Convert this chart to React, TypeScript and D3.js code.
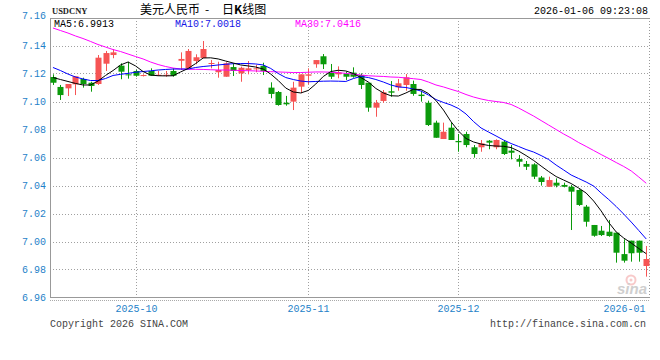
import React, { useEffect, useRef } from 'react';
import * as d3 from 'd3';

// USDCNY daily candles, mid Sep 2025 .. 2026-01-06
const open = [
    7.1175, 7.1104, 7.1094, 7.1123, 7.1161, 7.1134, 7.1125, 7.1270, 7.1332, 7.1256,
    7.1194, 7.1218, 7.1184, 7.1218, 7.1187, 7.1187, 7.1218, 7.1291, 7.1237, 7.1289,
    7.1311, 7.1270, 7.1209, 7.1177, 7.1246, 7.1201, 7.1225, 7.1230, 7.1254, 7.1099,
    7.1068, 7.0991, 7.0999, 7.1106, 7.1184, 7.1266, 7.1323, 7.1206, 7.1194, 7.1199,
    7.1206, 7.1189, 7.1134, 7.0956, 7.1004, 7.1073, 7.1101, 7.1118, 7.1125, 7.1049,
    7.0991, 7.0849, 7.0732, 7.0813, 7.0718, 7.0768, 7.0673, 7.0673, 7.0720, 7.0673,
    7.0713, 7.0649, 7.0589, 7.0554, 7.0551, 7.0457, 7.0391, 7.0420, 7.0404, 7.0391,
    7.0368, 7.0249, 7.0118, 7.0077, 7.0070, 7.0063, 6.9910, 7.0006, 7.0006, 6.9825
];
const high = [
    7.1194, 7.1118, 7.1125, 7.1180, 7.1170, 7.1141, 7.1332, 7.1361, 7.1375, 7.1273,
    7.1284, 7.1227, 7.1194, 7.1237, 7.1218, 7.1218, 7.1237, 7.1351, 7.1375, 7.1337,
    7.1432, 7.1296, 7.1284, 7.1280, 7.1273, 7.1249, 7.1289, 7.1261, 7.1277, 7.1137,
    7.1075, 7.1040, 7.1141, 7.1194, 7.1237, 7.1296, 7.1339, 7.1268, 7.1251, 7.1213,
    7.1244, 7.1201, 7.1134, 7.1011, 7.1082, 7.1146, 7.1161, 7.1196, 7.1149, 7.1077,
    7.1006, 7.0863, 7.0849, 7.0851, 7.0768, 7.0784, 7.0689, 7.0725, 7.0725, 7.0730,
    7.0725, 7.0689, 7.0618, 7.0575, 7.0559, 7.0468, 7.0463, 7.0451, 7.0420, 7.0404,
    7.0373, 7.0261, 7.0118, 7.0111, 7.0154, 7.0063, 7.0016, 7.0006, 7.0006, 6.9968
];
const low = [
    7.1118, 7.1011, 7.1039, 7.1046, 7.1099, 7.1070, 7.1118, 7.1218, 7.1309, 7.1159,
    7.1163, 7.1177, 7.1179, 7.1184, 7.1184, 7.1177, 7.1177, 7.1225, 7.1237, 7.1266,
    7.1309, 7.1237, 7.1170, 7.1177, 7.1182, 7.1141, 7.1194, 7.1209, 7.1189, 7.1023,
    7.0970, 7.0970, 7.0939, 7.1059, 7.1123, 7.1241, 7.1232, 7.1161, 7.1166, 7.1154,
    7.1170, 7.1089, 7.0927, 7.0891, 7.0991, 7.1034, 7.1077, 7.1077, 7.1041, 7.0999,
    7.0825, 7.0741, 7.0732, 7.0725, 7.0641, 7.0673, 7.0599, 7.0641, 7.0659, 7.0659,
    7.0618, 7.0587, 7.0534, 7.0511, 7.0446, 7.0399, 7.0391, 7.0387, 7.0387, 7.0082,
    7.0254, 7.0106, 7.0034, 7.0039, 7.0034, 6.9849, 6.9849, 6.9856, 6.9856, 6.9749
];
const close = [
    7.1134, 7.1046, 7.1125, 7.1180, 7.1125, 7.1111, 7.1313, 7.1346, 7.1351, 7.1213,
    7.1187, 7.1184, 7.1189, 7.1184, 7.1191, 7.1191, 7.1184, 7.1304, 7.1361, 7.1316,
    7.1375, 7.1275, 7.1225, 7.1273, 7.1218, 7.1241, 7.1237, 7.1237, 7.1218, 7.1054,
    7.0975, 7.0980, 7.1099, 7.1194, 7.1194, 7.1296, 7.1266, 7.1177, 7.1209, 7.1177,
    7.1177, 7.1118, 7.0956, 7.0991, 7.1066, 7.1063, 7.1130, 7.1173, 7.1054, 7.1039,
    7.0832, 7.0741, 7.0784, 7.0725, 7.0709, 7.0689, 7.0625, 7.0701, 7.0706, 7.0725,
    7.0625, 7.0634, 7.0570, 7.0534, 7.0463, 7.0425, 7.0439, 7.0399, 7.0391, 7.0356,
    7.0261, 7.0141, 7.0041, 7.0046, 7.0039, 6.9920, 6.9863, 6.9916, 6.9920, 6.9875
];

// moving averages as drawn on the chart
const ma5 = [
    7.1171, 7.1157, 7.1143, 7.1129, 7.1118, 7.1118, 7.1146, 7.1186, 7.1221, 7.1261,
    7.1282, 7.1254, 7.1214, 7.1189, 7.1184, 7.1183, 7.1184, 7.1211, 7.1236, 7.1271,
    7.1311, 7.1312, 7.1304, 7.1289, 7.1275, 7.1261, 7.1254, 7.1246, 7.1232, 7.1196,
    7.1150, 7.1096, 7.1068, 7.1061, 7.1079, 7.1125, 7.1179, 7.1214, 7.1223, 7.1218,
    7.1200, 7.1171, 7.1139, 7.1093, 7.1061, 7.1041, 7.1039, 7.1061, 7.1087, 7.1086,
    7.1057, 7.1007, 7.0939, 7.0856, 7.0789, 7.0736, 7.0711, 7.0696, 7.0686, 7.0682,
    7.0680, 7.0671, 7.0646, 7.0614, 7.0579, 7.0539, 7.0500, 7.0464, 7.0439, 7.0414,
    7.0382, 7.0346, 7.0289, 7.0218, 7.0136, 7.0068, 7.0025, 6.9989, 6.9950, 6.9913
];
const ma10 = [
    7.1243, 7.1221, 7.1196, 7.1175, 7.1161, 7.1150, 7.1150, 7.1164, 7.1186, 7.1194,
    7.1201, 7.1209, 7.1214, 7.1219, 7.1225, 7.1229, 7.1232, 7.1232, 7.1232, 7.1243,
    7.1250, 7.1255, 7.1261, 7.1266, 7.1270, 7.1271, 7.1271, 7.1268, 7.1261, 7.1236,
    7.1200, 7.1171, 7.1157, 7.1146, 7.1141, 7.1143, 7.1145, 7.1146, 7.1145, 7.1143,
    7.1164, 7.1179, 7.1171, 7.1157, 7.1139, 7.1118, 7.1104, 7.1100, 7.1089, 7.1075,
    7.1046, 7.1014, 7.0993, 7.0975, 7.0950, 7.0911, 7.0857, 7.0811, 7.0782, 7.0754,
    7.0725, 7.0700, 7.0679, 7.0657, 7.0639, 7.0614, 7.0586, 7.0546, 7.0511, 7.0475,
    7.0450, 7.0425, 7.0396, 7.0346, 7.0300, 7.0250, 7.0196, 7.0139, 7.0079, 7.0018
];
const ma30 = [
    7.1525, 7.1507, 7.1489, 7.1468, 7.1450, 7.1429, 7.1407, 7.1389, 7.1371, 7.1357,
    7.1339, 7.1321, 7.1304, 7.1282, 7.1264, 7.1250, 7.1239, 7.1232, 7.1230, 7.1230,
    7.1229, 7.1227, 7.1225, 7.1225, 7.1223, 7.1221, 7.1220, 7.1218, 7.1216, 7.1213,
    7.1211, 7.1209, 7.1207, 7.1207, 7.1209, 7.1211, 7.1211, 7.1209, 7.1206, 7.1201,
    7.1196, 7.1189, 7.1184, 7.1181, 7.1179, 7.1175, 7.1173, 7.1168, 7.1163, 7.1157,
    7.1139, 7.1118, 7.1104, 7.1087, 7.1071, 7.1050, 7.1032, 7.1018, 7.1007, 7.1000,
    7.0993, 7.0979, 7.0954, 7.0925, 7.0896, 7.0864, 7.0832, 7.0800, 7.0768, 7.0739,
    7.0707, 7.0679, 7.0650, 7.0621, 7.0593, 7.0564, 7.0536, 7.0504, 7.0461, 7.0416
];

const yTicks = [7.16, 7.14, 7.12, 7.10, 7.08, 7.06, 7.04, 7.02, 7.00, 6.98, 6.96];
const monthTicks = [
    { label: '2025-10', index: 11 },
    { label: '2025-11', index: 34 },
    { label: '2025-12', index: 54 },
    { label: '2026-01', index: 76 }
];

const MONO = "'Liberation Mono', 'DejaVu Sans Mono', monospace";
const UP = '#f65454';
const DOWN = '#0b9a0b';
const AXIS_BLUE = '#1f82c9';

export default function App() {
    const svgRef = useRef<SVGSVGElement>(null);

    useEffect(() => {
        if (!svgRef.current) return;
        const svg = d3.select(svgRef.current);
        svg.selectAll('*').remove();

        const width = 660;
        const height = 360;
        const left = 50, right = 650, top = 18, bottom = 297.5;

        svg.append('rect').attr('width', width).attr('height', height).attr('fill', '#fff');

        const x = d3.scaleBand<number>()
            .domain(d3.range(close.length))
            .range([49.2, right]);
        const cx = (i: number) => (x(i) as number) + x.bandwidth() / 2;

        const y = d3.scaleLinear().domain([6.96, 7.16]).range([bottom, 17.5]);

        // sina watermark
        const wm = svg.append('g').attr('opacity', 0.55);
        wm.append('circle').attr('cx', 631).attr('cy', 280).attr('r', 4.5)
            .attr('fill', 'none').attr('stroke', '#f3a0a0').attr('stroke-width', 2);
        wm.append('circle').attr('cx', 631).attr('cy', 280).attr('r', 1.5).attr('fill', '#f3a0a0');
        wm.append('text').attr('x', 647).attr('y', 294).attr('text-anchor', 'end')
            .attr('font-family', 'Arial, sans-serif').attr('font-style', 'italic')
            .attr('font-weight', 'bold').attr('font-size', 15).attr('fill', '#a8a8a8')
            .text('sina');

        // horizontal grid
        yTicks.forEach(t => {
            const yy = Math.round(y(t)) + 0.5;
            if (t !== 7.16 && t !== 6.96) {
                svg.append('line').attr('x1', left).attr('x2', right).attr('y1', yy).attr('y2', yy)
                    .attr('stroke', '#a0a0a0').attr('stroke-dasharray', '1,2');
            }
            svg.append('text')
                .attr('x', 46).attr('y', t === 7.16 ? y(t) - 2 : y(t))
                .attr('dy', '0.35em').attr('text-anchor', 'end')
                .attr('font-family', MONO).attr('font-size', 10).attr('fill', AXIS_BLUE)
                .text(t.toFixed(2));
        });

        // month grid + labels
        monthTicks.forEach(m => {
            const xx = Math.round(cx(m.index)) + 0.5;
            if (xx < right - 40) {
                svg.append('line').attr('x1', xx).attr('x2', xx).attr('y1', top).attr('y2', bottom)
                    .attr('stroke', '#a0a0a0').attr('stroke-dasharray', '1,2');
            }
            svg.append('text')
                .attr('x', Math.min(xx, right - 24)).attr('y', 312).attr('text-anchor', 'middle')
                .attr('font-family', MONO).attr('font-size', 10).attr('fill', AXIS_BLUE)
                .text(m.label);
        });

        // frame
        svg.append('line').attr('x1', left + 0.5).attr('x2', left + 0.5).attr('y1', top).attr('y2', bottom + 0.5)
            .attr('stroke', '#999');
        svg.append('line').attr('x1', left).attr('x2', right).attr('y1', top + 0.5).attr('y2', top + 0.5)
            .attr('stroke', '#999');
        svg.append('line').attr('x1', right - 0.5).attr('x2', right - 0.5).attr('y1', top).attr('y2', bottom)
            .attr('stroke', '#999').attr('stroke-dasharray', '1,2');
        svg.append('line').attr('x1', left).attr('x2', right).attr('y1', 297.5).attr('y2', 297.5)
            .attr('stroke', '#999');
        svg.append('line').attr('x1', left).attr('x2', right).attr('y1', 300.5).attr('y2', 300.5)
            .attr('stroke', '#aaa').attr('stroke-dasharray', '1,1');

        // candles
        const candles = svg.append('g');
        close.forEach((c, i) => {
            const o = open[i];
            const color = c >= o ? UP : DOWN;
            const xc = Math.round(cx(i));
            candles.append('line')
                .attr('x1', xc + 0.5).attr('x2', xc + 0.5)
                .attr('y1', y(high[i])).attr('y2', y(low[i]))
                .attr('stroke', color);
            const yt = y(Math.max(o, c));
            const yb = y(Math.min(o, c));
            candles.append('rect')
                .attr('x', xc - 2.5).attr('width', 6)
                .attr('y', yt).attr('height', Math.max(1, yb - yt))
                .attr('fill', color);
        });

        // moving averages
        const line = d3.line<number>().x((_, i) => cx(i)).y(d => y(d));
        [
            { data: ma30, color: '#ff00ff' },
            { data: ma10, color: '#0000ff' },
            { data: ma5, color: '#000000' }
        ].forEach(s => {
            svg.append('path').datum(s.data).attr('d', line)
                .attr('fill', 'none').attr('stroke', s.color).attr('stroke-width', 1);
        });

        // header
        svg.append('text').attr('x', 52).attr('y', 14)
            .attr('font-family', "'Liberation Serif', serif").attr('font-size', 8.5)
            .attr('font-weight', 'bold').attr('fill', '#222').text('USDCNY');
        const cjk = "'Noto Sans CJK SC', sans-serif";
        svg.append('text').attr('x', 140).attr('y', 14).attr('font-family', cjk)
            .attr('font-size', 12).attr('fill', '#000').text('美元人民币');
        svg.append('text').attr('x', 205).attr('y', 14).attr('font-family', cjk)
            .attr('font-size', 12).attr('fill', '#000').text('-');
        const t2 = svg.append('text').attr('x', 222).attr('y', 14).attr('font-family', cjk)
            .attr('font-size', 12).attr('fill', '#000');
        t2.append('tspan').text('日');
        t2.append('tspan').attr('font-weight', 'bold').text('K');
        t2.append('tspan').text('线图');

        svg.append('text').attr('x', 648).attr('y', 14).attr('text-anchor', 'end')
            .attr('font-family', MONO).attr('font-size', 10).attr('fill', '#000')
            .text('2026-01-06 09:23:08');

        const legend = [
            { label: 'MA5', value: ma5[ma5.length - 1], color: '#000', x: 54 },
            { label: 'MA10', value: ma10[ma10.length - 1], color: '#1414e6', x: 175 },
            { label: 'MA30', value: ma30[ma30.length - 1], color: '#ff00ff', x: 295 }
        ];
        legend.forEach(l => {
            svg.append('text').attr('x', l.x).attr('y', 27)
                .attr('font-family', MONO).attr('font-size', 10).attr('fill', l.color)
                .text(`${l.label}:${l.value.toFixed(4)}`);
        });

        // footer
        svg.append('text').attr('x', 50).attr('y', 327)
            .attr('font-family', MONO).attr('font-size', 10).attr('fill', '#444')
            .text('Copyright 2026 SINA.COM');
        svg.append('text').attr('x', 646).attr('y', 327).attr('text-anchor', 'end')
            .attr('font-family', MONO).attr('font-size', 10).attr('fill', '#444')
            .text('http://finance.sina.com.cn');
    }, []);

    return (
        <div style={{ position: 'absolute', left: 0, top: 0 }}>
            <svg ref={svgRef} width={660} height={360}></svg>
        </div>
    );
}
